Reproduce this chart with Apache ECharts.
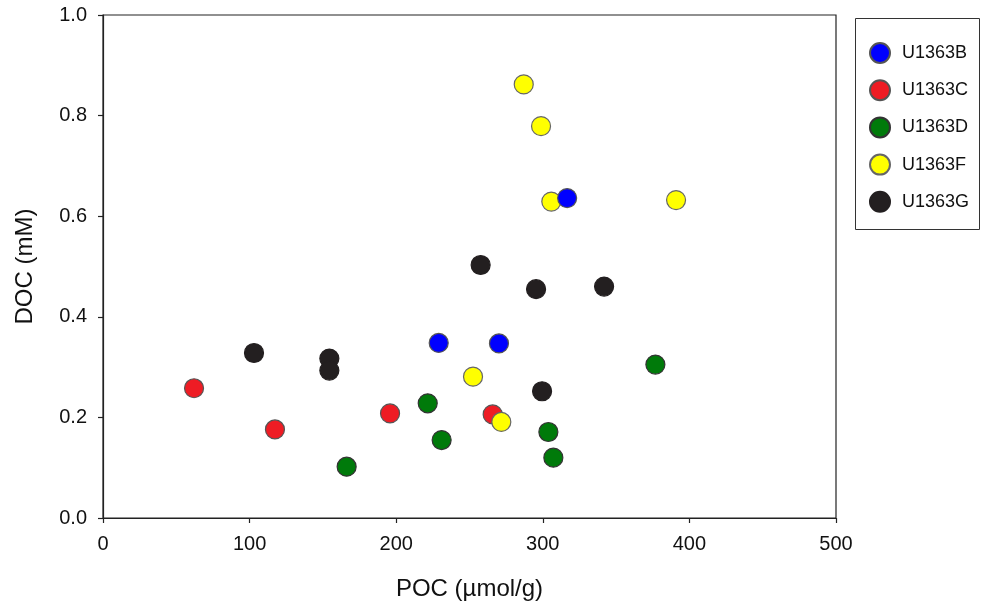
<!DOCTYPE html>
<html>
<head>
<meta charset="utf-8">
<script src="https://cdn.jsdelivr.net/npm/echarts@6/dist/echarts.min.js"></script>
<style>html,body{margin:0;padding:0;background:#fff;}#c{width:992px;height:606px;}</style>
</head>
<body>
<div id="c"></div>
<script>
const seriesNames = ['U1363B', 'U1363C', 'U1363D', 'U1363F', 'U1363G'];
const U1363B = [[316.6, 0.636], [229.0, 0.348], [270.1, 0.347]];
const U1363C = [[62.1, 0.258], [117.3, 0.176], [195.8, 0.208], [265.8, 0.206]];
const U1363D = [[166.2, 0.102], [221.5, 0.228], [231.0, 0.155], [303.8, 0.171], [307.2, 0.120], [376.8, 0.305]];
const U1363F = [[287.0, 0.862], [298.8, 0.779], [305.8, 0.629], [390.9, 0.632], [252.4, 0.281], [271.7, 0.191]];
const U1363G = [[103.0, 0.328], [154.4, 0.317], [154.4, 0.293], [257.6, 0.503], [295.4, 0.455], [341.8, 0.460], [299.5, 0.252]];
const xTicks = [0, 100, 200, 300, 400, 500];
const yTicks = [0.0, 0.2, 0.4, 0.6, 0.8, 1.0];

const allData = [U1363B, U1363C, U1363D, U1363F, U1363G];
const fills = ['#0000ff', '#ee1c24', '#007a0a', '#ffff00', '#231f20'];
const borders = ['#555555', '#555555', '#333333', '#666666', '#231f20'];
const zs = [4, 2, 2, 3, 2];
const font = 'Liberation Sans, Arial, Helvetica, sans-serif';

const chart = echarts.init(document.getElementById('c'), null, {renderer: 'canvas'});
chart.setOption({
  animation: false,
  backgroundColor: '#fff',
  grid: {left: 103, top: 15, right: 156, bottom: 88, show: true, borderColor: '#222', borderWidth: 1.2, backgroundColor: 'transparent'},
  xAxis: {
    type: 'value', min: 0, max: 500, interval: 100,
    name: 'POC (µmol/g)', nameLocation: 'middle', nameGap: 59,
    nameTextStyle: {fontFamily: font, fontSize: 24, color: '#111'},
    axisLine: {show: true, onZero: false, lineStyle: {color: '#222', width: 1.2}},
    axisTick: {show: true, length: 5, lineStyle: {color: '#222', width: 1.2}},
    axisLabel: {fontFamily: font, fontSize: 20, color: '#111', margin: 16,
      formatter: v => xTicks.includes(v) ? String(v) : ''},
    splitLine: {show: false}
  },
  yAxis: {
    type: 'value', min: 0, max: 1, interval: 0.2,
    name: 'DOC (mM)', nameLocation: 'middle', nameGap: 66, nameRotate: 90,
    nameTextStyle: {fontFamily: font, fontSize: 24, color: '#111'},
    axisLine: {show: true, onZero: false, lineStyle: {color: '#222', width: 1.2}},
    axisTick: {show: true, length: 5, lineStyle: {color: '#222', width: 1.2}},
    axisLabel: {fontFamily: font, fontSize: 20, color: '#111', margin: 16,
      formatter: v => yTicks.find(t => Math.abs(t - v) < 1e-9) !== undefined ? v.toFixed(1) : ''},
    splitLine: {show: false}
  },
  legend: {
    orient: 'vertical', left: 869, top: 42, padding: 0,
    itemWidth: 20, itemHeight: 20, itemGap: 15.2, icon: 'circle',
    textStyle: {fontFamily: font, fontSize: 18, lineHeight: 18, height: 18, color: '#111', padding: [0, 0, 0, 7]},
    data: seriesNames
  },
  graphic: [{
    type: 'rect', left: 853, top: 16,
    shape: {width: 124, height: 211},
    style: {fill: 'none', stroke: '#333', lineWidth: 1},
    z: 0
  }],
  series: seriesNames.map((n, i) => ({
    name: n, type: 'scatter', data: allData[i], symbol: 'circle', symbolSize: 19, z: zs[i],
    itemStyle: {color: fills[i], borderColor: borders[i], borderWidth: 1.2, opacity: 1}
  }))
});
</script>
</body>
</html>
